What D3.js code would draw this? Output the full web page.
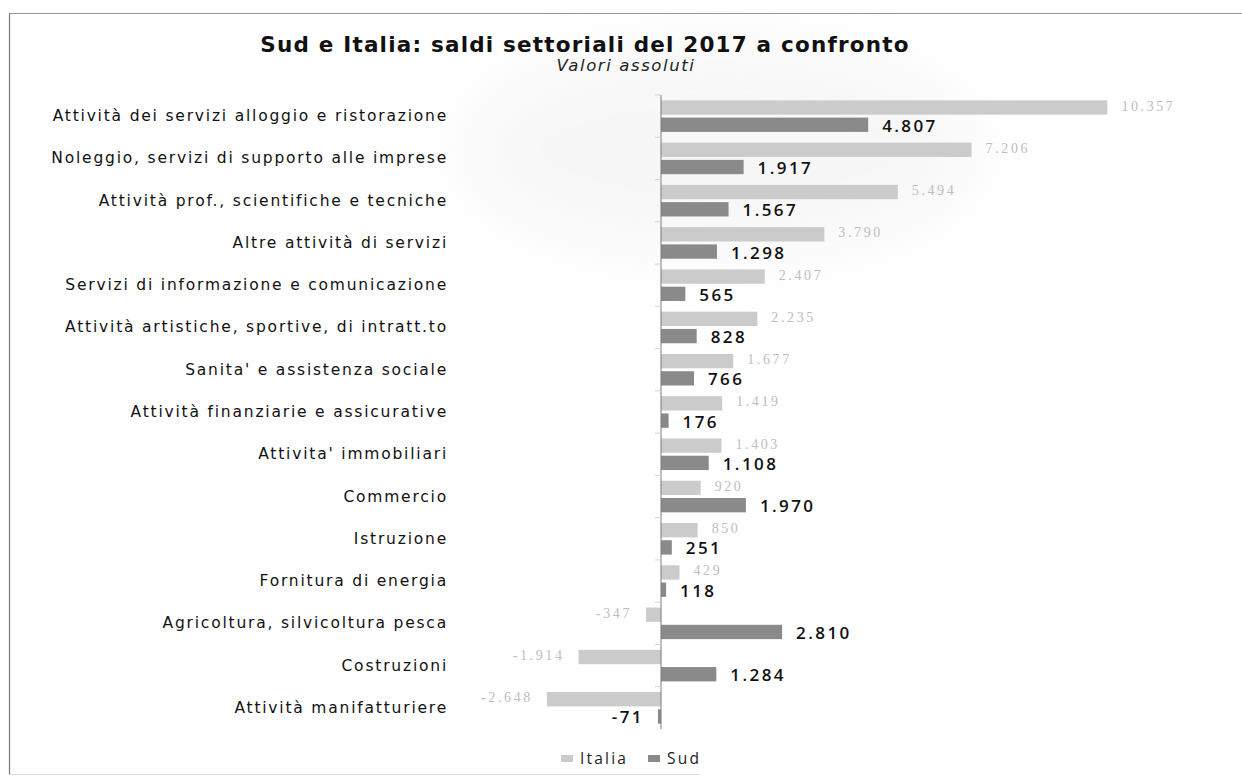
<!DOCTYPE html>
<html>
<head>
<meta charset="utf-8">
<script src="https://cdn.jsdelivr.net/npm/d3@7"></script>
<style>
  html, body { margin: 0; padding: 0; background: #fff; }
  svg { display: block; }
</style>
</head>
<body>
<svg id="chart" width="1242" height="777"></svg>
<script>
// Sector categories, top to bottom
const categories = [
  "Attività dei servizi alloggio e ristorazione",
  "Noleggio, servizi di supporto alle imprese",
  "Attività prof., scientifiche e tecniche",
  "Altre attività di servizi",
  "Servizi di informazione e comunicazione",
  "Attività artistiche, sportive, di intratt.to",
  "Sanita' e assistenza sociale",
  "Attività finanziarie e assicurative",
  "Attivita' immobiliari",
  "Commercio",
  "Istruzione",
  "Fornitura di energia",
  "Agricoltura, silvicoltura pesca",
  "Costruzioni",
  "Attività manifatturiere"
];
// Net balances 2017 (absolute values)
const italia = [10357, 7206, 5494, 3790, 2407, 2235, 1677, 1419, 1403, 920, 850, 429, -347, -1914, -2648];
const sud    = [4807, 1917, 1567, 1298, 565, 828, 766, 176, 1108, 1970, 251, 118, 2810, 1284, -71];
const seriesNames = ["Italia", "Sud"];
const seriesColors = ["#cbcbcb", "#8a8a8a"];

const svg = d3.select("#chart");
const fmt = v => (v < 0 ? "-" : "") + d3.format(",")(Math.abs(v)).replace(/,/g, ".");

// soft background haze in the upper area
const defs = svg.append("defs");
defs.append("filter").attr("id", "haze").attr("x", "-50%").attr("y", "-50%")
  .attr("width", "200%").attr("height", "200%")
  .append("feGaussianBlur").attr("stdDeviation", 30);
svg.append("ellipse").attr("cx", 720).attr("cy", 150).attr("rx", 260).attr("ry", 110)
  .attr("fill", "#ececec").attr("opacity", 0.4).attr("filter", "url(#haze)");

// frame
svg.append("line").attr("x1", 9).attr("x2", 1242).attr("y1", 13.5).attr("y2", 13.5)
  .attr("stroke", "#999").attr("stroke-width", 1);
svg.append("line").attr("x1", 9.5).attr("x2", 9.5).attr("y1", 13).attr("y2", 775)
  .attr("stroke", "#777").attr("stroke-width", 1.2);
svg.append("line").attr("x1", 9).attr("x2", 700).attr("y1", 774.5).attr("y2", 774.5)
  .attr("stroke", "#ddd").attr("stroke-width", 1);

// titles
svg.append("text").attr("x", 585).attr("y", 52).attr("text-anchor", "middle")
  .attr("font-family", "DejaVu Sans, sans-serif").attr("font-weight", "bold")
  .attr("font-size", 21.5).attr("letter-spacing", 1.2).attr("fill", "#111")
  .text("Sud e Italia: saldi settoriali del 2017 a confronto");
svg.append("text").attr("x", 626).attr("y", 71).attr("text-anchor", "middle")
  .attr("font-family", "DejaVu Sans, sans-serif").attr("font-style", "italic")
  .attr("font-size", 16.5).attr("letter-spacing", 1.6).attr("fill", "#222")
  .text("Valori assoluti");

// scales
const x = d3.scaleLinear().domain([0, 10000]).range([661, 1092]);
const y = d3.scaleBand().domain(categories).range([95, 729]);
const ys = d3.scaleBand().domain(seriesNames).range([0, y.bandwidth()])
  .paddingInner(0.17).paddingOuter(0.31);

const rows = categories.map((c, i) => ({ cat: c, values: [italia[i], sud[i]] }));

// bars
const g = svg.append("g");
rows.forEach(r => {
  r.values.forEach((v, k) => {
    const s = seriesNames[k];
    g.append("rect")
      .attr("x", Math.min(x(0), x(v)))
      .attr("y", y(r.cat) + ys(s))
      .attr("width", Math.abs(x(v) - x(0)))
      .attr("height", ys.bandwidth())
      .attr("fill", seriesColors[k]);
  });
});

// axis line with category ticks
svg.append("line").attr("x1", x(0)).attr("x2", x(0)).attr("y1", 95).attr("y2", 729)
  .attr("stroke", "#7a7a7a").attr("stroke-width", 1);
categories.forEach(c => {
  svg.append("line").attr("x1", x(0) - 6).attr("x2", x(0))
    .attr("y1", y(c)).attr("y2", y(c)).attr("stroke", "#d4d4d4");
});

// category labels
svg.append("g").selectAll("text").data(categories).join("text")
  .attr("x", 448).attr("y", c => y(c) + y.bandwidth() / 2 + 5)
  .attr("text-anchor", "end")
  .attr("font-family", "DejaVu Sans, sans-serif").attr("font-size", 15.5)
  .attr("letter-spacing", 1.8).attr("fill", "#111")
  .text(c => c);

// value labels
rows.forEach(r => {
  r.values.forEach((v, k) => {
    const s = seriesNames[k];
    const cy = y(r.cat) + ys(s) + ys.bandwidth() / 2;
    const t = svg.append("text")
      .attr("x", v >= 0 ? x(v) + 14 : x(v) - 14)
      .attr("text-anchor", v >= 0 ? "start" : "end")
      .text(fmt(v));
    if (k === 0) {
      t.attr("font-family", "Liberation Serif, serif").attr("font-size", 14)
        .attr("letter-spacing", 2.6).attr("fill", "#bdbdbd").attr("y", cy + 3);
    } else {
      t.attr("font-family", "Open Sans, sans-serif").attr("font-size", 17)
        .attr("font-weight", 600).attr("letter-spacing", 2.4).attr("fill", "#111")
        .attr("y", cy + 7);
    }
  });
});

// legend
const leg = svg.append("g").attr("transform", "translate(561,758)");
const legX = [0, 87];
seriesNames.forEach((s, k) => {
  leg.append("rect").attr("x", legX[k]).attr("y", -3).attr("width", 12).attr("height", 7)
    .attr("fill", seriesColors[k]);
  leg.append("text").attr("x", legX[k] + 19).attr("y", 6)
    .attr("font-family", "Open Sans, sans-serif").attr("font-size", 15.5)
    .attr("letter-spacing", 2.2).attr("fill", "#222").text(s);
});
</script>
</body>
</html>
